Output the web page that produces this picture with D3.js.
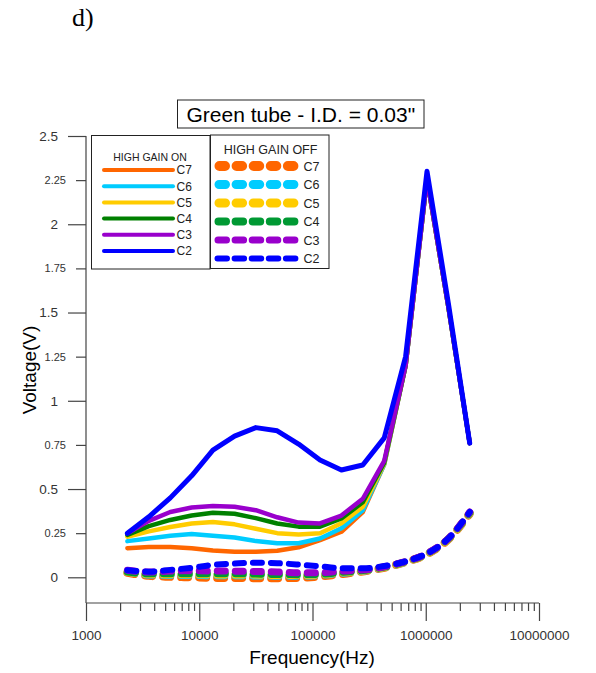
<!DOCTYPE html>
<html>
<head>
<meta charset="utf-8">
<script src="https://cdn.jsdelivr.net/npm/d3@7"></script>
<style>
  body { margin: 0; background: #fff; }
  svg { display: block; }
</style>
</head>
<body>
<svg id="chart" width="596" height="673"></svg>
<script>
// Sweep frequencies (Hz)
const frequencies = [2320, 3590, 5550, 8570, 13200, 20500, 31600, 48800, 75400,
                     116500, 180000, 278000, 430000, 664000, 1026000, 1585000, 2445000];

// Channel names and colours
const channels = ["C7", "C6", "C5", "C4", "C3", "C2"];
const onColors  = ["#ff6600", "#00ccff", "#ffcc00", "#008000", "#9900cc", "#0000ff"];
const offColors = ["#ff6600", "#00ccff", "#ffcc00", "#009933", "#9900cc", "#0000ff"];

// Output voltage (V), high gain ON
const onC7 = [0.165, 0.172, 0.172, 0.165, 0.152, 0.145, 0.145, 0.150, 0.170, 0.210, 0.258, 0.370, 0.640, 1.200, 2.260, 1.530, 0.760];
const onC6 = [0.205, 0.220, 0.235, 0.245, 0.235, 0.225, 0.205, 0.193, 0.193, 0.220, 0.278, 0.380, 0.640, 1.200, 2.260, 1.530, 0.760];
const onC5 = [0.230, 0.260, 0.285, 0.305, 0.313, 0.300, 0.275, 0.250, 0.243, 0.250, 0.306, 0.400, 0.645, 1.200, 2.260, 1.530, 0.760];
const onC4 = [0.240, 0.290, 0.325, 0.350, 0.366, 0.360, 0.335, 0.305, 0.287, 0.287, 0.334, 0.425, 0.650, 1.200, 2.260, 1.530, 0.760];
const onC3 = [0.249, 0.320, 0.370, 0.395, 0.404, 0.400, 0.380, 0.340, 0.310, 0.305, 0.350, 0.445, 0.660, 1.200, 2.260, 1.530, 0.760];
const onC2 = [0.249, 0.343, 0.450, 0.575, 0.720, 0.800, 0.848, 0.830, 0.755, 0.665, 0.608, 0.636, 0.790, 1.250, 2.300, 1.550, 0.760];

// Output voltage (V), high gain OFF
const offC7 = [0.025, 0.008, 0.003, 0.000, -0.003, -0.004, -0.005, -0.005, -0.003, 0.004, 0.018, 0.033, 0.054, 0.086, 0.131, 0.215, 0.360];
const offC6 = [0.030, 0.015, 0.012, 0.012, 0.010, 0.010, 0.009, 0.008, 0.008, 0.012, 0.024, 0.036, 0.056, 0.087, 0.132, 0.217, 0.362];
const offC5 = [0.030, 0.018, 0.016, 0.016, 0.015, 0.015, 0.014, 0.012, 0.012, 0.015, 0.026, 0.037, 0.057, 0.087, 0.132, 0.217, 0.363];
const offC4 = [0.030, 0.020, 0.020, 0.020, 0.020, 0.020, 0.018, 0.016, 0.015, 0.017, 0.028, 0.038, 0.058, 0.088, 0.133, 0.218, 0.365];
const offC3 = [0.040, 0.030, 0.035, 0.037, 0.036, 0.035, 0.033, 0.030, 0.026, 0.026, 0.035, 0.042, 0.060, 0.090, 0.135, 0.220, 0.370];
const offC2 = [0.040, 0.032, 0.042, 0.054, 0.070, 0.078, 0.083, 0.080, 0.072, 0.062, 0.052, 0.051, 0.064, 0.090, 0.135, 0.220, 0.370];

// Axis ticks
const xMajorTicks = [1000, 10000, 100000, 1000000, 10000000];
const yMajorTicks = [0, 0.5, 1, 1.5, 2, 2.5];
const yMinorTicks = [0.25, 0.75, 1.25, 1.75, 2.25];

const onSeries  = [onC7, onC6, onC5, onC4, onC3, onC2];
const offSeries = [offC7, offC6, offC5, offC4, offC3, offC2];

const SANS = "'Liberation Sans', Arial, Helvetica, sans-serif";
const SERIF = "'Liberation Serif', 'Times New Roman', serif";
const AXIS_COLOR = "#444";

const svg = d3.select("#chart");

const x = d3.scaleLog().domain([1000, 1e7]).range([86, 539]);
const y = d3.scaleLinear().domain([0, 2.5]).range([577.3, 136]);
const axisY = 603;     // x-axis baseline
const axisX = 86;      // y-axis position

// Panel letter
svg.append("text")
  .attr("x", 72).attr("y", 26)
  .attr("font-family", SERIF).attr("font-size", 26)
  .attr("fill", "#000").text("d)");

// Title box
const title = svg.append("g");
title.append("rect")
  .attr("x", 177.5).attr("y", 100).attr("width", 246.5).attr("height", 28)
  .attr("fill", "#fff").attr("stroke", "#222").attr("stroke-width", 1);
title.append("text")
  .attr("x", 300.8).attr("y", 121.5).attr("text-anchor", "middle")
  .attr("font-family", SANS).attr("font-size", 21).attr("fill", "#000")
  .text("Green tube - I.D. = 0.03\"");

// ---- Axes ----
const xMinorTicks = [];
for (let d = 1000; d < 1e7; d *= 10) for (let k = 2; k <= 9; k++) xMinorTicks.push(d * k);

const gx = svg.append("g").attr("transform", `translate(0,${axisY})`);
gx.call(d3.axisBottom(x).tickValues(xMajorTicks).tickSize(18).tickPadding(9)
  .tickFormat(d3.format("d")));
const gxm = svg.append("g").attr("transform", `translate(0,${axisY})`);
gxm.call(d3.axisBottom(x).tickValues(xMinorTicks).tickSize(8).tickFormat(""));

const gy = svg.append("g").attr("transform", `translate(${axisX},0)`);
gy.call(d3.axisLeft(y).tickValues(yMajorTicks).tickSize(18).tickPadding(10)
  .tickFormat(d => String(d)));
const gym = svg.append("g").attr("transform", `translate(${axisX},0)`);
gym.call(d3.axisLeft(y).tickValues(yMinorTicks).tickSize(10).tickPadding(10)
  .tickFormat(d => String(d)));

[gx, gxm, gy, gym].forEach(g => {
  g.select(".domain").remove();
  g.selectAll(".tick line").attr("stroke", AXIS_COLOR).attr("stroke-width", 1.2);
  g.selectAll(".tick text").attr("fill", "#333").attr("font-family", SANS);
});
gx.selectAll(".tick text").attr("font-size", 13.5);
gy.selectAll(".tick text").attr("font-size", 13.5);
gym.selectAll(".tick text").attr("font-size", 11);

// Axis lines
svg.append("line")
  .attr("x1", axisX).attr("x2", x(1e7)).attr("y1", axisY).attr("y2", axisY)
  .attr("stroke", AXIS_COLOR).attr("stroke-width", 1.2);
svg.append("line")
  .attr("x1", axisX).attr("x2", axisX).attr("y1", y(2.5)).attr("y2", axisY)
  .attr("stroke", AXIS_COLOR).attr("stroke-width", 1.2);

// Axis titles
svg.append("text")
  .attr("x", 312).attr("y", 664).attr("text-anchor", "middle")
  .attr("font-family", SANS).attr("font-size", 19).attr("fill", "#000")
  .text("Frequency(Hz)");
svg.append("text")
  .attr("transform", "translate(36,370) rotate(-90)")
  .attr("text-anchor", "middle")
  .attr("font-family", SANS).attr("font-size", 19).attr("fill", "#000")
  .text("Voltage(V)");

// ---- Series ----
const line = d3.line()
  .x((d, i) => x(frequencies[i]))
  .y(d => y(d));
const lineSmooth = d3.line()
  .x((d, i) => x(frequencies[i]))
  .y(d => y(d))
  .curve(d3.curveMonotoneX);

// Stroke widths per channel
const offWidths = [8, 7.5, 7.5, 7, 7, 6];
const onWidths = [4.5, 4.5, 4.5, 4.5, 4.5, 5];

const plot = svg.append("g");

offSeries.forEach((vals, i) => {
  const w = offWidths[i];
  const dash = Math.max(15 - w, 1);
  plot.append("path")
    .datum(vals)
    .attr("d", lineSmooth)
    .attr("fill", "none")
    .attr("stroke", offColors[i])
    .attr("stroke-width", w)
    .attr("stroke-linecap", "round")
    .attr("stroke-linejoin", "round")
    .attr("stroke-dasharray", `${dash} ${18 - dash}`);
});

onSeries.forEach((vals, i) => {
  plot.append("path")
    .datum(vals)
    .attr("d", line)
    .attr("fill", "none")
    .attr("stroke", onColors[i])
    .attr("stroke-width", onWidths[i])
    .attr("stroke-linecap", "round")
    .attr("stroke-linejoin", "round");
});

// ---- Legends ----
// High gain ON
const lg1 = svg.append("g");
lg1.append("rect")
  .attr("x", 91.5).attr("y", 135.5).attr("width", 118.5).attr("height", 133.5)
  .attr("fill", "#fff").attr("stroke", "#222").attr("stroke-width", 1);
lg1.append("text")
  .attr("x", 150).attr("y", 160.5).attr("text-anchor", "middle")
  .attr("font-family", SANS).attr("font-size", 10.5).attr("fill", "#222")
  .text("HIGH GAIN ON");
channels.forEach((c, i) => {
  const cy = 170 + i * 16.2;
  lg1.append("line")
    .attr("x1", 104).attr("x2", 173).attr("y1", cy).attr("y2", cy)
    .attr("stroke", onColors[i]).attr("stroke-width", 4).attr("stroke-linecap", "round");
  lg1.append("text")
    .attr("x", 176.5).attr("y", cy).attr("dy", "0.36em")
    .attr("font-family", SANS).attr("font-size", 12).attr("fill", "#222")
    .text(c);
});

// High gain OFF
const legendDashWidths = [10, 9, 9, 8, 7, 6];
const lg2 = svg.append("g");
lg2.append("rect")
  .attr("x", 210.5).attr("y", 135).attr("width", 118.5).attr("height", 133.5)
  .attr("fill", "#fff").attr("stroke", "#222").attr("stroke-width", 1);
lg2.append("text")
  .attr("x", 270.5).attr("y", 154).attr("text-anchor", "middle")
  .attr("font-family", SANS).attr("font-size", 12.5).attr("fill", "#222")
  .text("HIGH GAIN OFF");
channels.forEach((c, i) => {
  const cy = 166 + i * 18.5;
  const w = legendDashWidths[i];
  const period = 17.1, visible = 15.5;
  const d = visible - w;
  const x0 = 214.5 + w / 2;
  lg2.append("line")
    .attr("x1", x0).attr("x2", x0 + 4 * period + d).attr("y1", cy).attr("y2", cy)
    .attr("stroke", offColors[i]).attr("stroke-width", w)
    .attr("stroke-linecap", "round")
    .attr("stroke-dasharray", `${d} ${period - d}`);
  lg2.append("text")
    .attr("x", 303.5).attr("y", cy).attr("dy", "0.36em")
    .attr("font-family", SANS).attr("font-size", 12.5).attr("fill", "#222")
    .text(c);
});
</script>
</body>
</html>
